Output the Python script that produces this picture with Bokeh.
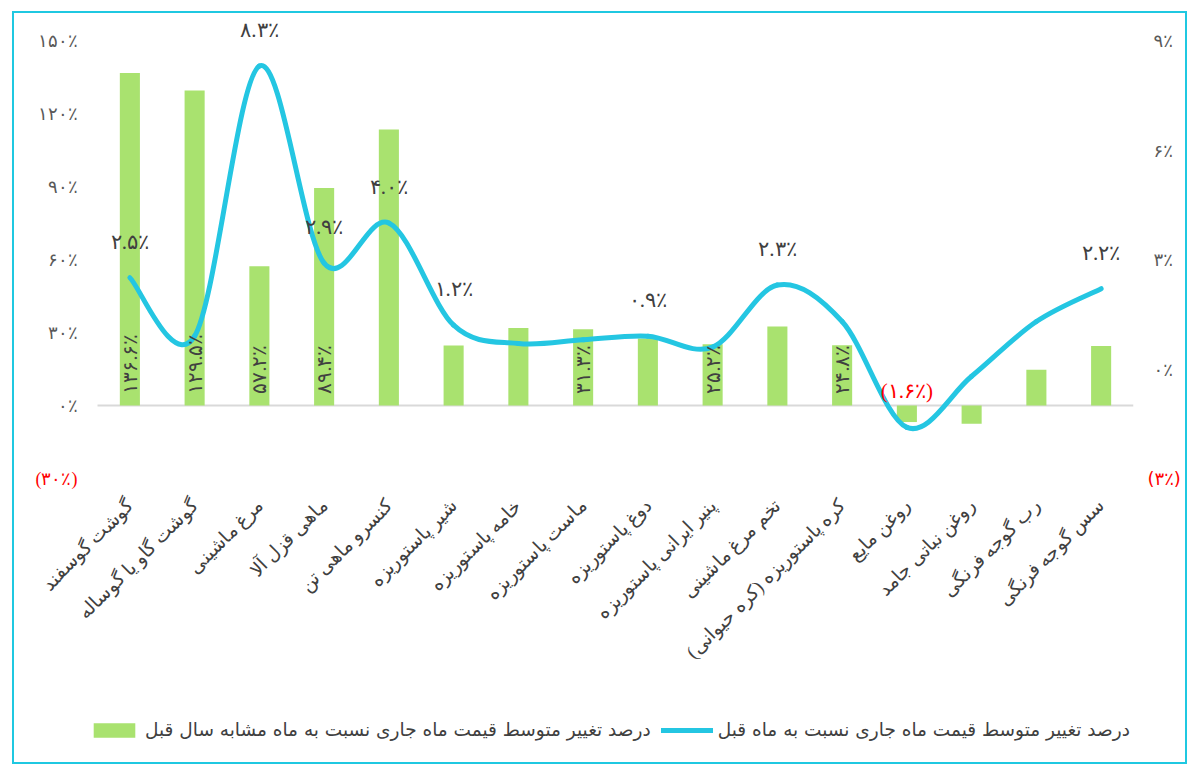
import numpy as np
from bokeh.plotting import figure
from bokeh.models import (Range1d, LinearAxis, FixedTicker, ColumnDataSource,
                          LabelSet, Legend, LegendItem, Span, CustomJSTickFormatter)
from bokeh.embed import file_html
from bokeh.resources import INLINE

# ---------------- data ----------------
categories = [
    "گوشت گوسفند", "گوشت گاو یا گوساله", "مرغ ماشینی", "ماهی قزل آلا",
    "کنسرو ماهی تن", "شیر پاستوریزه", "خامه پاستوریزه", "ماست پاستوریزه",
    "دوغ پاستوریزه", "پنیر ایرانی پاستوریزه", "تخم مرغ ماشینی",
    "کره پاستوریزه (کره حیوانی)", "روغن مایع", "روغن نباتی جامد",
    "رب گوجه فرنگی", "سس گوجه فرنگی",
]
# year-over-year change (%), left axis, bars
yoy = [136.6, 129.5, 57.2, 89.4, 113.4, 24.7, 31.9, 31.3, 27.5, 25.2, 32.5, 24.8,
       -6.8, -7.5, 14.7, 24.5]
# month-over-month change (%), right axis, line
mom = [2.5, 0.9, 8.3, 2.9, 4.0, 1.2, 0.7, 0.8, 0.9, 0.6, 2.3, 1.3, -1.6, -0.2, 1.3, 2.2]
# which data labels are shown in the original
yoy_label_shown = [1, 1, 1, 1, 0, 0, 0, 1, 0, 1, 0, 1, 0, 0, 0, 0]
mom_label_shown = [1, 0, 1, 1, 1, 1, 0, 0, 1, 0, 1, 0, 1, 0, 0, 1]

left_ticks = [-30, 0, 30, 60, 90, 120, 150]
right_ticks = [-3, 0, 3, 6, 9]

legend_bar = "درصد تغییر متوسط قیمت ماه جاری نسبت به ماه مشابه سال قبل"
legend_line = "درصد تغییر متوسط قیمت ماه جاری نسبت به ماه قبل"

# ---------------- helpers ----------------
FA = str.maketrans("0123456789", "۰۱۲۳۴۵۶۷۸۹")


def fa_pct(v, dec=1):
    s = f"{abs(v):.{dec}f}".translate(FA) + "٪"
    return f"({s})" if v < 0 else s


FONT = "DejaVu Sans"
BAR_COLOR = "#A9E26F"
LINE_COLOR = "#24C6E2"
TEXT = "#404040"
AXIS_TEXT = "#595959"
TICK_FS = "18px"

fa_code = """
    const d = "۰۱۲۳۴۵۶۷۸۹";
    const s = String(Math.round(Math.abs(tick))).replace(/[0-9]/g, c => d[+c]) + "٪";
    return tick < 0 ? "(" + s + ")" : s;
"""

# ---------------- layout geometry (pixels) ----------------
W, H = 1175, 753
TOP = 27               # canvas top -> 150% level
LEFT = 83              # canvas left -> first category slot
RIGHT = 56             # room for the right-hand axis
PLOT_H = 438           # height of the value area (-30%..150%)
EXTRA = H - TOP - PLOT_H   # room under the value area for category labels + legend

n = len(categories)
xs = np.arange(n) + 0.5
px_per_cat = (W - LEFT - RIGHT) / n

lmin, lmax = left_ticks[0], left_ticks[-1]
rmin, rmax = right_ticks[0], right_ticks[-1]
kl = (lmax - lmin) / PLOT_H
kr = (rmax - rmin) / PLOT_H

p = figure(width=W, height=H,
           x_range=Range1d(-LEFT / px_per_cat, n),
           y_range=Range1d(lmin - EXTRA * kl, lmax + TOP * kl),
           output_backend="svg", toolbar_location=None,
           x_axis_type=None, y_axis_type=None,
           min_border_left=0, min_border_right=RIGHT, min_border_top=0,
           min_border_bottom=0)
p.extra_y_ranges = {"right": Range1d(rmin - EXTRA * kr, rmax + TOP * kr)}
p.outline_line_color = None
p.background_fill_color = "white"
p.border_fill_color = "white"
p.styles = {"border": "2px solid #1FC8E1", "margin-left": "12px", "margin-top": "11px"}


def style_axis(ax, color, standoff):
    ax.axis_line_color = None
    ax.major_tick_line_color = None
    ax.minor_tick_line_color = None
    ax.major_tick_out = 0
    ax.minor_tick_out = 0
    ax.major_tick_in = 0
    ax.minor_tick_in = 0
    ax.major_label_standoff = standoff
    ax.major_label_text_font = FONT
    ax.major_label_text_font_size = TICK_FS
    ax.major_label_text_color = color


# left value scale labels (placed by the left y scale)
lt_src = ColumnDataSource(dict(x=[0] * len(left_ticks), y=left_ticks,
                               t=[fa_pct(t, 0) for t in left_ticks],
                               c=["#FF0000" if t < 0 else AXIS_TEXT for t in left_ticks]))
p.add_layout(LabelSet(x="x", y="y", text="t", source=lt_src, x_offset=-20,
                      text_align="right", text_baseline="middle",
                      text_font=FONT, text_font_size=TICK_FS, text_color="c"))

# right axis: inner gray axis, outer red axis pulled back into the same column
rax = LinearAxis(y_range_name="right", ticker=FixedTicker(ticks=[t for t in right_ticks if t >= 0]),
                 formatter=CustomJSTickFormatter(code=fa_code))
style_axis(rax, AXIS_TEXT, 20)
p.add_layout(rax, "right")
rax_red = LinearAxis(y_range_name="right", ticker=FixedTicker(ticks=[t for t in right_ticks if t < 0]),
                     formatter=CustomJSTickFormatter(code=fa_code))
style_axis(rax_red, "#FF0000", -28)
p.add_layout(rax_red, "right")

# zero line (across the category area)
zero_src = ColumnDataSource(dict(x0=[0], x1=[n], y=[0]))
p.segment(x0="x0", x1="x1", y0="y", y1="y", source=zero_src,
          line_color="#D9D9D9", line_width=2)

# bars
bar_src = ColumnDataSource(dict(x=xs, top=yoy))
bars = p.vbar(x="x", top="top", width=0.31, fill_color=BAR_COLOR, line_color=None,
              source=bar_src)

# smoothed line (Catmull-Rom -> cubic Bezier control points from the data)
P = np.column_stack([xs, np.array(mom, dtype=float)])
x0, y0, x1, y1, cx0, cy0, cx1, cy1 = ([] for _ in range(8))
for i in range(n - 1):
    p0 = P[i - 1] if i > 0 else P[i]
    p1, p2 = P[i], P[i + 1]
    p3 = P[i + 2] if i + 2 < n else P[i + 1]
    c0 = p1 + (p2 - p0) / 6.0
    c1 = p2 - (p3 - p1) / 6.0
    x0.append(p1[0]); y0.append(p1[1]); x1.append(p2[0]); y1.append(p2[1])
    cx0.append(c0[0]); cy0.append(c0[1]); cx1.append(c1[0]); cy1.append(c1[1])
curve = p.bezier(x0=x0, y0=y0, x1=x1, y1=y1, cx0=cx0, cy0=cy0, cx1=cx1, cy1=cy1,
                 line_color=LINE_COLOR, line_width=5, line_cap="round",
                 y_range_name="right")

# bar data labels (rotated, at the bar base)
bl = [i for i in range(n) if yoy_label_shown[i]]
bl_src = ColumnDataSource(dict(x=[xs[i] for i in bl], y=[0] * len(bl),
                               t=[fa_pct(yoy[i]) for i in bl]))
p.add_layout(LabelSet(x="x", y="y", text="t", source=bl_src, angle=np.pi / 2,
                      text_align="left", text_baseline="middle", y_offset=12,
                      text_font=FONT, text_font_size="20px", text_color=TEXT))

# line data labels
ll = [i for i in range(n) if mom_label_shown[i]]
ll_src = ColumnDataSource(dict(x=[xs[i] for i in ll], y=[mom[i] for i in ll],
                               t=[fa_pct(mom[i]) for i in ll],
                               c=["red" if mom[i] < 0 else TEXT for i in ll]))
p.add_layout(LabelSet(x="x", y="y", text="t", source=ll_src, y_range_name="right",
                      text_align="center", text_baseline="middle", y_offset=36,
                      text_font=FONT, text_font_size="21px", text_color="c"))

# category labels (rotated 45°, hanging under the value area)
cat_src = ColumnDataSource(dict(x=xs, y=[lmin] * n, t=[c + "\u200f" for c in categories]))
p.add_layout(LabelSet(x="x", y="y", text="t", source=cat_src, angle=np.pi / 4,
                      text_align="right", text_baseline="middle", y_offset=-24,
                      text_font=FONT, text_font_size="19px", text_color=TEXT))

# legend
legend = Legend(items=[LegendItem(label=legend_bar, renderers=[bars]),
                       LegendItem(label=legend_line, renderers=[curve])],
                orientation="horizontal", location=(74, 26))
legend.border_line_color = None
legend.background_fill_alpha = 0
legend.padding = 0
legend.margin = 0
legend.spacing = 10
legend.label_standoff = 5
legend.glyph_width = 52
legend.glyph_height = 18
legend.label_text_font = FONT
legend.label_text_font_size = "18.5px"
legend.label_text_color = TEXT
p.add_layout(legend, "center")

open("out.html", "w").write(file_html(p, INLINE))
